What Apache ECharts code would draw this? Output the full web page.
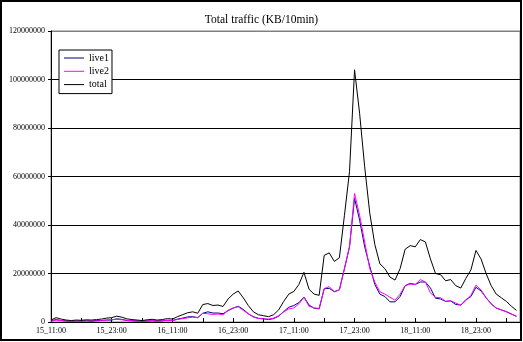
<!DOCTYPE html>
<html>
<head>
<meta charset="utf-8">
<script src="https://cdn.jsdelivr.net/npm/echarts@6/dist/echarts.min.js"></script>
<style>
  html, body { margin: 0; padding: 0; background: #fff; }
  #chart { width: 523px; height: 342px; }
</style>
</head>
<body>
<div id="chart"></div>
<script>
// Hourly traffic, in millions of KB per 10 minutes, starting at 15_11:00
const live1 = [
  0.5, 1.0, 0.6, 0.4, 0.3, 0.4, 0.4, 0.5, 0.3, 0.6, 0.6, 0.8,
  0.8, 1.3, 1.1, 0.6, 0.5, 0.4, 0.3, 0.4, 0.5, 0.4, 0.5, 0.7,
  0.6, 1.2, 1.6, 2.1, 2.2, 1.8, 3.6, 4.2, 3.7, 3.7, 3.4, 4.7,
  5.7, 6.5, 5.2, 3.4, 2.2, 1.5, 1.3, 1.0, 1.4, 2.4, 4.3, 6.1,
  6.8, 8.0, 10.3, 7.0, 5.7, 5.4, 13.7, 13.9, 12.5, 13.3, 22, 31,
  51, 42, 31, 23, 15.5, 11.5, 10.5, 8.3, 8.3, 10.5, 15, 15.9,
  15.5, 16.5, 16.5, 14, 9.8, 9.5, 8.5, 8.7, 7.2, 7.0, 9.2, 10.5,
  14.3, 12.8, 10, 7.5, 5.7, 5.0, 4.3, 3.3, 2.3
];
const live2 = [
  0.3, 0.8, 0.6, 0.4, 0.3, 0.4, 0.3, 0.4, 0.5, 0.4, 0.6, 0.8,
  1.0, 1.1, 0.9, 0.7, 0.5, 0.4, 0.3, 0.5, 0.6, 0.4, 0.5, 0.7,
  0.6, 1.0, 1.4, 1.7, 2.0, 1.8, 3.6, 3.4, 3.1, 3.3, 3.0, 4.8,
  5.8, 6.3, 4.8, 3.4, 2.0, 1.5, 1.3, 1.2, 1.6, 2.6, 4.2, 5.4,
  5.8, 7.5, 10.2, 6.5, 5.8, 5.6, 13.8, 14.6, 12.5, 13.2, 22, 31,
  53, 44, 33, 22, 16.5, 12.5, 11.5, 10.2, 9.0, 11.5, 15, 15.6,
  15.5, 17.5, 16.5, 12, 10.2, 10, 8.5, 8.8, 7.8, 7.0, 8.8, 11,
  15.2, 13.2, 10.0, 7.5, 5.8, 5.0, 4.2, 3.2, 2.5
];
const total = [
  0.8, 1.8, 1.2, 0.8, 0.6, 0.8, 0.7, 0.9, 0.8, 1.0, 1.2, 1.6,
  1.8, 2.4, 2.0, 1.3, 1.0, 0.8, 0.6, 0.9, 1.1, 0.8, 1.0, 1.4,
  1.2, 2.2, 3.0, 3.8, 4.2, 3.6, 7.2, 7.6, 6.8, 7.0, 6.4, 9.5,
  11.5, 12.8, 10.0, 6.8, 4.2, 3.0, 2.6, 2.2, 3.0, 5.0, 8.5, 11.5,
  12.6, 15.5, 20.5, 13.5, 11.5, 11.0, 27.5, 28.5, 25.0, 26.5, 44, 62,
  104, 86, 64, 45, 32, 24, 22, 18.5, 17.3, 22, 30, 31.5,
  31, 34, 33, 26, 20, 19.5, 17, 17.5, 15, 14, 18, 21.5,
  29.5, 26, 20, 15, 11.5, 10, 8.5, 6.5, 4.8
];
// Day_hour labels, one every 12 hours
const tickLabels = ['15_11:00', '15_23:00', '16_11:00', '16_23:00',
                    '17_11:00', '17_23:00', '18_11:00', '18_23:00'];
const seriesNames = ['live1', 'live2', 'total'];
const seriesColors = ['#000080', '#ff00ff', '#000000'];

const serif = 'Liberation Serif';
const toPoints = arr => arr.map((v, i) => [i, v]);

const chart = echarts.init(document.getElementById('chart'), null, { renderer: 'canvas' });
chart.setOption({
  animation: false,
  backgroundColor: '#ffffff',
  title: {
    text: 'Total traffic (KB/10min)',
    left: 'center',
    top: 9,
    textStyle: { fontFamily: serif, fontSize: 11.5, fontWeight: 'normal', color: '#000' }
  },
  legend: {
    data: seriesNames,
    orient: 'vertical',
    left: 59,
    top: 50,
    padding: [2, 3, 3, 5],
    itemGap: 1.3,
    itemWidth: 20,
    itemHeight: 1,
    icon: 'rect',
    backgroundColor: '#ffffff',
    borderColor: '#000000',
    borderWidth: 1,
    borderRadius: 0,
    textStyle: { fontFamily: serif, fontSize: 10, color: '#000', lineHeight: 12 }
  },
  grid: {
    left: 51, top: 31, right: 3, bottom: 20,
    show: true, borderColor: '#808080', borderWidth: 1, backgroundColor: '#ffffff'
  },
  xAxis: {
    type: 'value',
    min: 0,
    max: 92.7,
    interval: 6,
    axisLine: { show: true, lineStyle: { color: '#000', width: 1 } },
    axisTick: { show: true, inside: true, length: 4, lineStyle: { color: '#000' } },
    splitLine: { show: false },
    axisLabel: {
      showMaxLabel: false,
      margin: 5,
      fontFamily: serif, fontSize: 8, color: '#000',
      formatter: v => (v % 12 === 0 && tickLabels[v / 12]) ? tickLabels[v / 12] : ''
    }
  },
  yAxis: {
    type: 'value',
    min: 0,
    max: 120,
    interval: 20,
    axisLine: { show: true, lineStyle: { color: '#000', width: 1 } },
    axisTick: { show: true, inside: false, length: 3, lineStyle: { color: '#000' } },
    splitLine: {
      show: true,
      lineStyle: { color: ['#000', '#000', '#000', '#000', '#000', '#000', '#808080'], width: 1 }
    },
    axisLabel: {
      margin: 6,
      fontFamily: serif, fontSize: 8, color: '#000',
      formatter: v => String(Math.round(v * 1000000))
    }
  },
  graphic: [{
    type: 'rect',
    shape: { x: 1, y: 1, width: 520, height: 339 },
    style: { fill: null, stroke: '#000', lineWidth: 2 },
    silent: true,
    z: 100
  }],
  series: [live1, live2, total].map((arr, k) => ({
    name: seriesNames[k],
    type: 'line',
    data: toPoints(arr),
    color: seriesColors[k],
    showSymbol: false,
    symbol: 'none',
    lineStyle: { width: 1, color: seriesColors[k] },
    itemStyle: { color: seriesColors[k] },
    emphasis: { disabled: true },
    z: 2 + k
  }))
});
</script>
</body>
</html>
